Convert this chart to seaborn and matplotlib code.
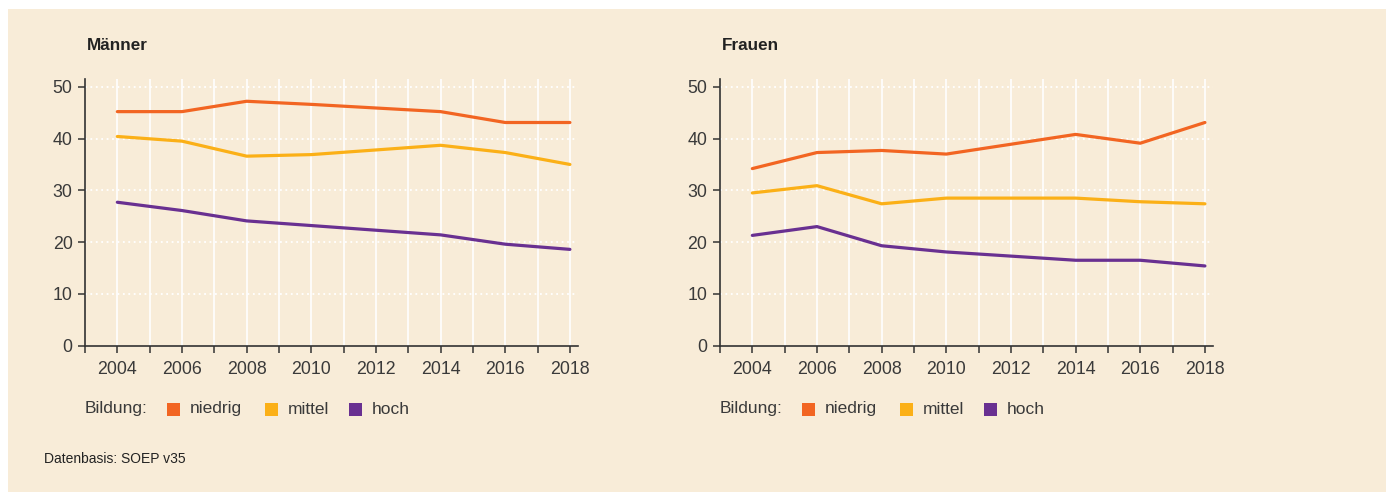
import numpy as np
import pandas as pd
import matplotlib.pyplot as plt
import seaborn as sns
from matplotlib.patches import Rectangle
from matplotlib.ticker import MultipleLocator

# Daten
jahre = [2004, 2006, 2008, 2010, 2012, 2014, 2016, 2018]
bildung = ['niedrig', 'mittel', 'hoch']
farben = ['#f26522', '#fbb017', '#693091']

maenner_niedrig = [45.2, 45.2, 47.2, 46.6, 45.9, 45.2, 43.1, 43.1]
maenner_mittel = [40.4, 39.5, 36.6, 36.9, 37.8, 38.7, 37.3, 35.0]
maenner_hoch = [27.7, 26.1, 24.1, 23.2, 22.3, 21.4, 19.6, 18.6]

frauen_niedrig = [34.2, 37.3, 37.7, 37.0, 38.9, 40.8, 39.1, 43.1]
frauen_mittel = [29.5, 30.9, 27.4, 28.5, 28.5, 28.5, 27.8, 27.4]
frauen_hoch = [21.3, 23.0, 19.3, 18.1, 17.3, 16.5, 16.5, 15.4]

bg = '#f8ecd8'
textfarbe = '#3a3a3a'


def long_df(werte):
    rows = []
    for b, vals in zip(bildung, werte):
        for j, v in zip(jahre, vals):
            rows.append({'jahr': j, 'wert': v, 'bildung': b})
    return pd.DataFrame(rows)


df_m = long_df([maenner_niedrig, maenner_mittel, maenner_hoch])
df_f = long_df([frauen_niedrig, frauen_mittel, frauen_hoch])

sns.set_style('white')
plt.rcParams['font.family'] = ['Liberation Sans', 'DejaVu Sans']

fig = plt.figure(figsize=(13.86, 4.93), dpi=100)
fig.patch.set_facecolor('white')
# beiger Hintergrund mit weissem Rand oben/links
fig.patches.append(Rectangle((8 / 1386, 1 / 493), 1 - 8 / 1386, 483 / 493,
                             transform=fig.transFigure, facecolor=bg,
                             edgecolor='none', zorder=-5))

panels = [
    ('Männer', df_m, 85 / 1386),
    ('Frauen', df_f, 720 / 1386),
]

for titel, df, left in panels:
    ax = fig.add_axes([left, (493 - 345.7) / 493, 493 / 1386, 266.7 / 493])
    ax.set_facecolor('none')

    # Gitterlinien
    for j in range(2004, 2019):
        ax.axvline(j, color='white', lw=1.2, zorder=1)
    for y in range(10, 51, 10):
        ax.axhline(y, color='white', lw=1.3, ls=(0, (1, 2)), zorder=1)

    sns.lineplot(data=df, x='jahr', y='wert', hue='bildung',
                 hue_order=bildung, palette=farben, lw=2.3, ax=ax,
                 legend=False, zorder=3)

    ax.set_xlim(2003, 2018.25)
    ax.set_ylim(0, 51.5)
    ax.xaxis.set_major_locator(MultipleLocator(2))
    ax.xaxis.set_minor_locator(MultipleLocator(1))
    ax.set_yticks(range(0, 51, 10))
    ax.set_xlabel('')
    ax.set_ylabel('')

    for s in ['top', 'right']:
        ax.spines[s].set_visible(False)
    for s in ['left', 'bottom']:
        ax.spines[s].set_color('#333333')
        ax.spines[s].set_linewidth(1.2)

    ax.tick_params(axis='both', which='both', direction='out', length=5,
                   width=1.1, color='#333333', labelcolor=textfarbe,
                   labelsize=12.8)
    ax.tick_params(axis='x', which='both', bottom=True, pad=6)
    ax.tick_params(axis='y', left=True, pad=4)
    ax.set_xticks(range(2004, 2019, 2))
    ax.set_xticklabels([str(j) for j in range(2004, 2019, 2)])

    # Titel
    fig.text(left + 2 / 1386, 1 - 45 / 493, titel, fontsize=12.3,
             fontweight='bold', color='#222222', va='center', ha='left')

    # Legende
    ly = 1 - 409 / 493
    fig.text(left, ly, 'Bildung:', fontsize=12.5, color=textfarbe,
             va='center', ha='left')
    offsets = [82, 180, 264]
    for b, c, off in zip(bildung, farben, offsets):
        x0 = left + off / 1386
        fig.patches.append(Rectangle((x0, ly - 6.5 / 493), 13 / 1386, 13 / 493,
                                     transform=fig.transFigure, facecolor=c,
                                     edgecolor='none', zorder=2))
        fig.text(x0 + 23 / 1386, ly, b, fontsize=12.5, color=textfarbe,
                 va='center', ha='left')

fig.text(44 / 1386, 1 - 459 / 493, 'Datenbasis: SOEP v35', fontsize=10,
         color='#222222', va='center', ha='left')

fig.savefig('out.png', dpi=100, facecolor=fig.get_facecolor())
